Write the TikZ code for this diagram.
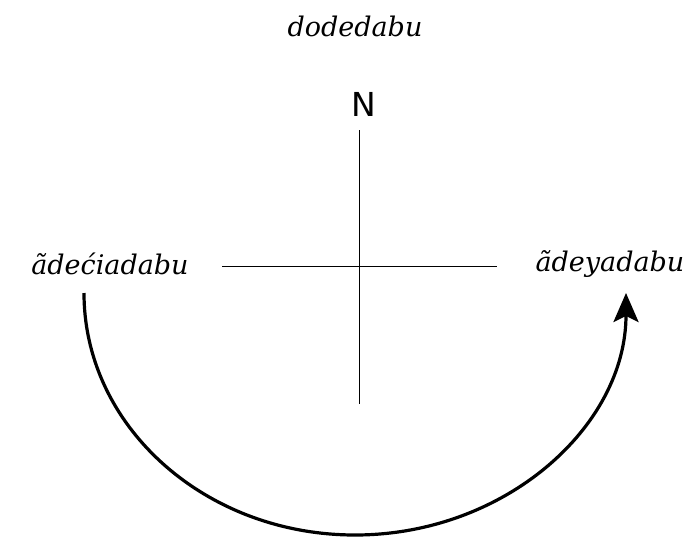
\documentclass[tikz,border=0pt]{standalone}
\usepackage{fontspec}
\setmainfont{DejaVu Serif}
\newfontfamily\labsans{DejaVu Sans}
\usetikzlibrary{arrows.meta}
\tikzset{
  lab/.style={font=\fontsize{27}{32}\selectfont\itshape, inner sep=0pt},
  crossline/.style={line width=0.9pt},
  turn/.style={line width=3.2pt, -{Stealth[length=29pt,width=25pt,inset=6pt]}}
}
\begin{document}
\begin{tikzpicture}[x=1pt,y=-1pt]
\useasboundingbox (0,0) rectangle (691,544);
\node[lab] (top) at (355,26) {dodedabu};
\node[font=\labsans\fontsize{33}{36}\selectfont, inner sep=0pt] (n) at (364,104) {N};
\node[lab] (left) at (110,264) {ãdećiadabu};
\node[lab] (right) at (610,264) {ãdeyadabu};
\coordinate (wE) at (222,266);
\coordinate (eE) at (497,266);
\coordinate (nE) at (359,130);
\coordinate (sE) at (359,404);
\draw[crossline] (wE) -- (eE);
\draw[crossline] (nE) -- (sE);
\coordinate (s) at (84,293);
\draw[turn] (s) arc[start angle=180, end angle=360, x radius=271, y radius=-242];
\end{tikzpicture}
\end{document}
